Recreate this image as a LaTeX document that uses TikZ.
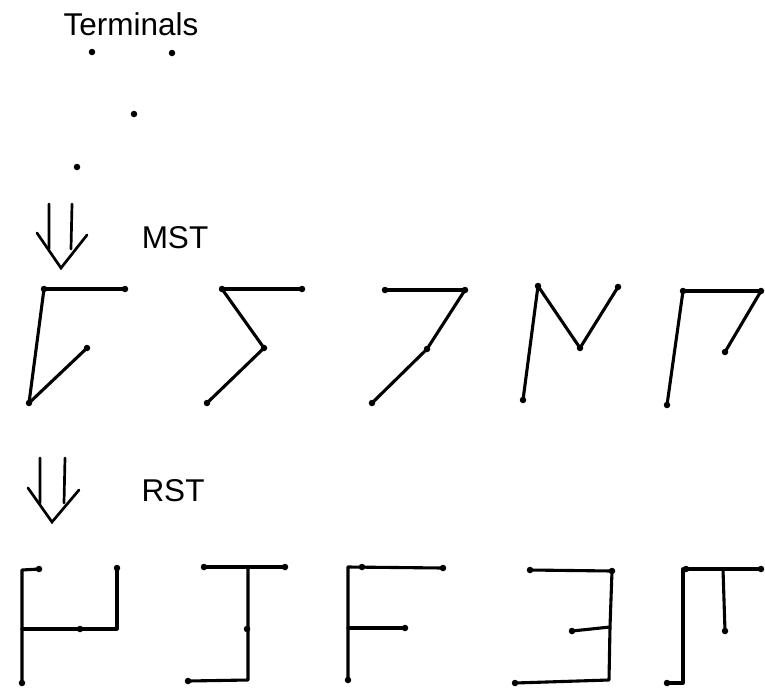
\documentclass[tikz,border=0pt]{standalone}
\usepackage{fontspec}
\setmainfont{Liberation Sans}
\begin{document}
\begin{tikzpicture}[x=1pt,y=-1pt,
  term/.style={circle,fill=black,inner sep=0pt,minimum size=6.5pt},
  crn/.style={inner sep=0pt,minimum size=0pt},
  edge/.style={line width=3.1pt,line cap=round,line join=round},
  arr/.style={line width=2.7pt,line cap=round,line join=miter},
  lbl/.style={font=\fontsize{31.5}{36}\selectfont,inner sep=0pt}]
\useasboundingbox (0,0) rectangle (765,689);

% labels
\node[lbl] (lterm) at (131,24) {Terminals};
\node[lbl] (lmst) at (175,238) {MST};
\node[lbl] (lrst) at (173,491) {RST};

% terminals
\node[term] (p1) at (92,52) {};
\node[term] (p2) at (172,53) {};
\node[term] (p3) at (134,114) {};
\node[term] (p4) at (77,167) {};

% arrows
\draw[arr] (49,204) -- (49,249) (72,204) -- (71,249);
\draw[arr] (37,233) -- (61,268) -- (87,235);
\draw[arr] (40,458) -- (40,503) (65,458) -- (64,503);
\draw[arr] (28,488) -- (52,522) -- (79,490);

% ---------- MST row ----------
% tree 1
\node[term] (m1a) at (44,289) {};
\node[term] (m1b) at (125,289) {};
\node[term] (m1c) at (87,348) {};
\node[term] (m1d) at (29,403) {};
\draw[edge] (m1a.center) -- (m1b.center);
\draw[edge] (m1a.center) -- (m1d.center);
\draw[edge] (m1d.center) -- (m1c.center);
% tree 2
\node[term] (m2a) at (222,289) {};
\node[term] (m2b) at (302,289) {};
\node[term] (m2c) at (264,348) {};
\node[term] (m2d) at (207,403) {};
\draw[edge] (m2a.center) -- (m2b.center);
\draw[edge] (m2a.center) -- (m2c.center);
\draw[edge] (m2c.center) -- (m2d.center);
% tree 3
\node[term] (m3a) at (385,290) {};
\node[term] (m3b) at (465,290) {};
\node[term] (m3c) at (427,349) {};
\node[term] (m3d) at (372,403) {};
\draw[edge] (m3a.center) -- (m3b.center);
\draw[edge] (m3b.center) -- (m3c.center);
\draw[edge] (m3c.center) -- (m3d.center);
% tree 4
\node[term] (m4a) at (538,286) {};
\node[term] (m4b) at (618,287) {};
\node[term] (m4c) at (580,348) {};
\node[term] (m4d) at (523,400) {};
\draw[edge] (m4a.center) -- (m4d.center);
\draw[edge] (m4a.center) -- (m4c.center);
\draw[edge] (m4c.center) -- (m4b.center);
% tree 5
\node[term] (m5a) at (683,291) {};
\node[term] (m5b) at (761,291) {};
\node[term] (m5c) at (725,352) {};
\node[term] (m5d) at (667,405) {};
\draw[edge] (m5a.center) -- (m5b.center);
\draw[edge] (m5a.center) -- (m5d.center);
\draw[edge] (m5b.center) -- (m5c.center);

% ---------- RST row ----------
% tree 1
\node[term] (r1a) at (39,569) {};
\node[term] (r1b) at (117,568) {};
\node[term] (r1c) at (80,629) {};
\node[term] (r1d) at (22,683) {};
\coordinate (r1s1) at (22,570);
\coordinate (r1s2) at (22,629);
\coordinate (r1s3) at (117,629);
\draw[edge] (r1a.center) -- (r1s1) -- (r1s2) -- (r1d.center);
\draw[edge] (r1s2) -- (r1s3) -- (r1b.center);
% tree 2
\node[term] (r2a) at (204,567) {};
\node[term] (r2b) at (285,567) {};
\node[term] (r2c) at (247,629) {};
\node[term] (r2d) at (188,681) {};
\coordinate (r2s1) at (248,567);
\coordinate (r2s2) at (248,680);
\draw[edge] (r2a.center) -- (r2b.center);
\draw[edge] (r2s1) -- (r2s2) -- (r2d.center);
% tree 3
\node[term] (r3a) at (362,567) {};
\node[term] (r3b) at (443,568) {};
\node[term] (r3c) at (405,628) {};
\node[term] (r3d) at (348,680) {};
\coordinate (r3s1) at (348,567);
\coordinate (r3s2) at (348,628);
\draw[edge] (r3b.center) -- (r3s1) -- (r3d.center);
\draw[edge] (r3s2) -- (r3c.center);
% tree 4
\node[term] (r4a) at (530,570) {};
\node[term] (r4b) at (612,571) {};
\node[term] (r4c) at (572,631) {};
\node[term] (r4d) at (515,683) {};
\coordinate (r4s1) at (610,627);
\coordinate (r4s2) at (609,680);
\draw[edge] (r4a.center) -- (r4b.center) -- (r4s1) -- (r4s2) -- (r4d.center);
\draw[edge] (r4s1) -- (r4c.center);
% tree 5
\node[term] (r5a) at (686,569) {};
\node[term] (r5b) at (761,569) {};
\node[term] (r5c) at (725,631) {};
\node[term] (r5d) at (667,683) {};
\coordinate (r5s1) at (683,569);
\coordinate (r5s2) at (723,569);
\coordinate (r5s3) at (683,683);
\draw[edge] (r5b.center) -- (r5s1) -- (r5s3) -- (r5d.center);
\draw[edge] (r5s2) -- (r5c.center);
\end{tikzpicture}
\end{document}
